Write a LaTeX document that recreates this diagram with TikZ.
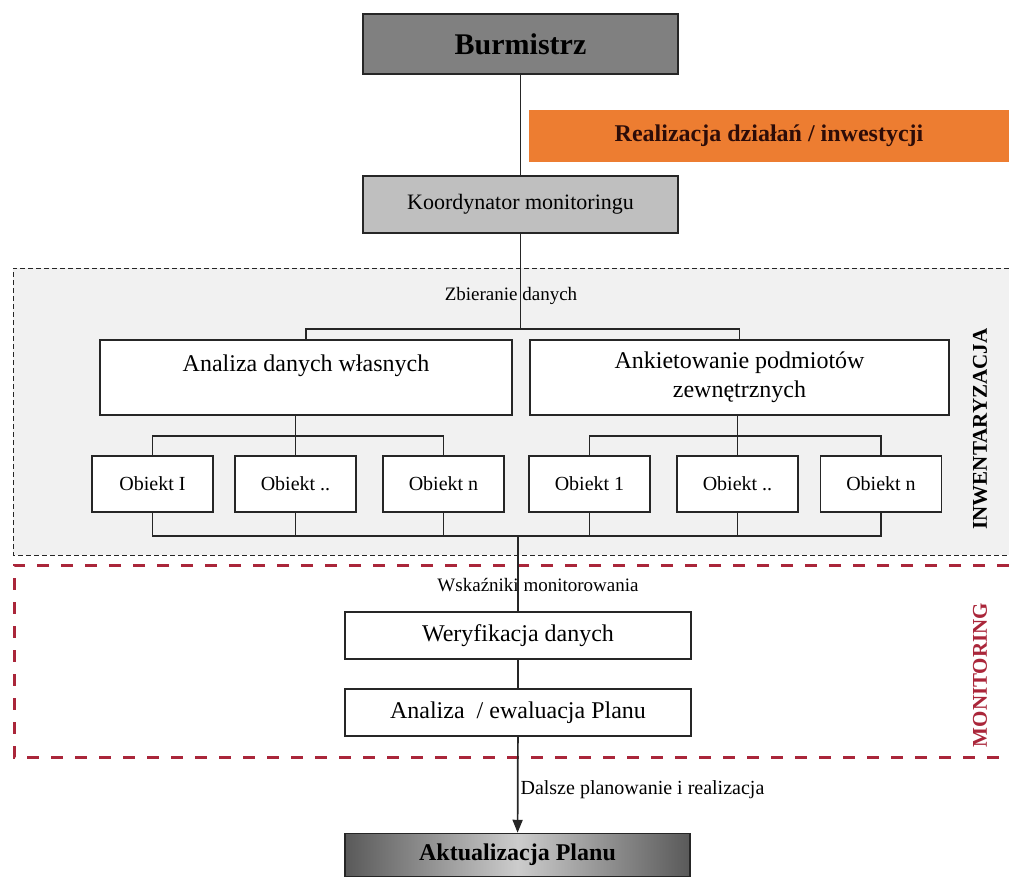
\documentclass[tikz,border=0pt]{standalone}
\usepackage{fontspec}
\setmainfont{Liberation Serif}
\usetikzlibrary{arrows.meta}
\definecolor{barorange}{RGB}{237,125,49}
\definecolor{bartext}{RGB}{45,12,8}
\definecolor{invgray}{RGB}{241,241,241}
\definecolor{monred}{RGB}{170,38,58}
\tikzset{
    box/.style={draw=black!85, line width=1.5pt, fill=white, inner sep=2pt, align=center},
    obj/.style={box, minimum width=121pt, minimum height=56pt, font=\fontsize{20}{24}\selectfont},
    wide/.style={box, minimum width=346pt, minimum height=47pt, font=\fontsize{24}{29}\selectfont},
    wire/.style={draw=black!85, line width=1.7pt},
}

\begin{document}
\begin{tikzpicture}[x=1pt, y=-1pt]
    \newcommand\posM{520.5}
    \newcommand\posL{518}
    \newcommand\posO{484}
    \useasboundingbox (0,0) rectangle (1009,878);

    % frames
    \fill[invgray] (13,268) rectangle (1009,555);
    \draw[black!85, line width=1pt, dash pattern=on 5pt off 3pt] (1009,268) -- (13,268) -- (13,555) -- (1009,555);
    \draw[monred, line width=3pt, dash pattern=on 12pt off 12pt] (1009,565) -- (14,565) -- (14,757) -- (1009,757);

    \node[box, fill=black!50, line width=1.8pt, minimum width=315pt, minimum height=60pt, font=\bfseries\fontsize{30}{36}\selectfont] (B) at (\posM, 44){Burmistrz};
    \node[fill=barorange, text=bartext, minimum width=480pt, minimum height=52pt, font=\bfseries\fontsize{24}{29}\selectfont] (R) at (769, 136){Realizacja działań / inwestycji};
    \node[box, fill=black!25, minimum width=315pt, minimum height=57pt, font=\fontsize{22}{26}\selectfont] (K) at (\posM, 204.5){Koordynator monitoringu};

    \node[font=\fontsize{19}{23}\selectfont] (labZ) at (511, 296){Zbieranie danych};
    \node[box, minimum width=412pt, minimum height=75pt, font=\fontsize{24}{29}\selectfont] (A1) at (306, 377.5){Analiza danych własnych\\\mbox{}};
    \node[box, minimum width=419pt, minimum height=75pt, font=\fontsize{24}{29}\selectfont] (A2) at (739.5, 377.5){Ankietowanie podmiotów\\zewnętrznych};

    \node[obj] (O1) at (152.5, \posO){Obiekt I};
    \node[obj] (O2) at (295.5, \posO){Obiekt ..};
    \node[obj] (O3) at (443.5, \posO){Obiekt n};
    \node[obj] (O4) at (589.5, \posO){Obiekt 1};
    \node[obj] (O5) at (737.5, \posO){Obiekt ..};
    \node[obj] (O6) at (881, \posO){Obiekt n};

    \node[rotate=90, font=\bfseries\fontsize{21}{25}\selectfont] (labI) at (980, 429){INWENTARYZACJA};
    \node[rotate=90, text=monred, font=\bfseries\fontsize{21}{25}\selectfont] (labM) at (980, 675){MONITORING};

    \node[font=\fontsize{19}{23}\selectfont] (labW) at (538, 585){Wskaźniki monitorowania};
    \node[wide] (W) at (\posL, 635.5){Weryfikacja danych};
    \node[wide] (E) at (\posL, 712.5){Analiza \ / ewaluacja Planu};
    \node[box, left color=black!65, right color=black!65, middle color=black!20, minimum width=345pt, minimum height=43pt, font=\bfseries\fontsize{24}{29}\selectfont] (AP) at (517.5, 855){Aktualizacja Planu};

    \coordinate (busZ) at (0, 329);
    \coordinate (busL) at (0, 436);
    \coordinate (busD) at (0, 536);

    \draw[wire] (B) -- (K);
    \draw[wire] (K) -- (K.south |- busZ);
    \draw[wire] (A1.north) -- (A1.north |- busZ) -- (A2.north |- busZ) -- (A2.north);

    \draw[wire] (A1.south -| O2) -- (O2.north);
    \draw[wire] (O1.north) -- (O1.north |- busL) -- (O3.north |- busL) -- (O3.north);
    \draw[wire] (A2.south -| O5) -- (O5.north);
    \draw[wire] (O4.north) -- (O4.north |- busL) -- (O6.north |- busL) -- (O6.north);

    \draw[wire] (O1.south) -- (O1.south |- busD) -- (O6.south |- busD) -- (O6.south);
    \foreach \n in {2,...,5}
        \draw[wire] (O\n.south) -- (O\n.south |- busD);

    \draw[wire] (W.north |- busD) -- (W);
    \draw[wire] (W) -- (E);
    \draw[wire, -{Triangle[length=13pt, width=10pt]}] (E) -- node[right, pos=0.55, inner sep=2pt, font=\fontsize{20}{24}\selectfont]{Dalsze planowanie i realizacja} (AP);
\end{tikzpicture}
\end{document}
